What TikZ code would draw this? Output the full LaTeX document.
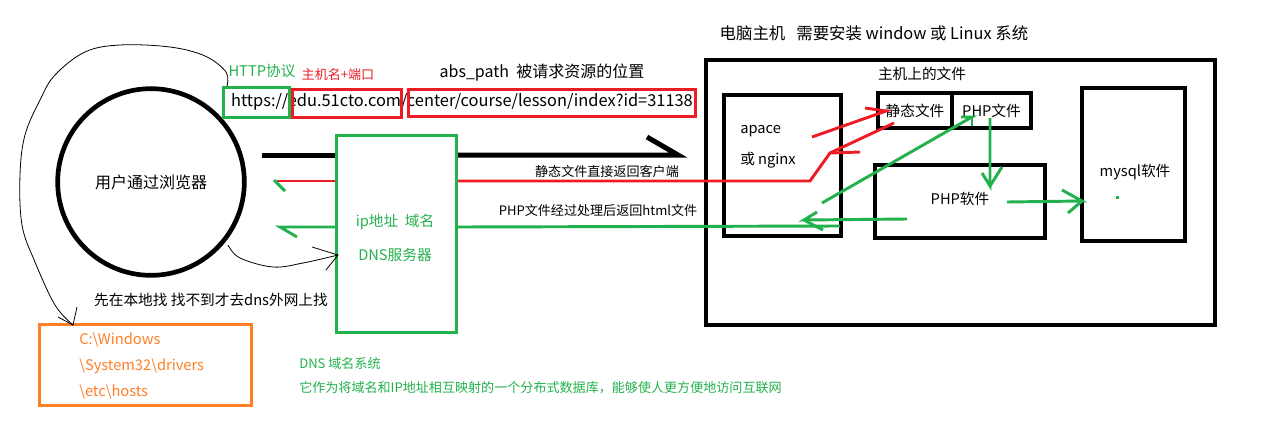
\documentclass[tikz,border=0pt]{standalone}
\usepackage{fontspec}
\setmainfont{Noto Sans CJK SC}
\usetikzlibrary{positioning}
\definecolor{pgreen}{HTML}{22B14C}
\definecolor{pred}{HTML}{ED1C24}
\definecolor{porange}{HTML}{FF7F27}
\tikzset{
  txt/.style={font=\fontsize{11}{13}\selectfont,inner sep=0pt},
  bigtxt/.style={font=\fontsize{12.3}{14}\selectfont,inner sep=0pt},
  smalltxt/.style={font=\fontsize{9.8}{11}\selectfont,inner sep=0pt},
  blkbox/.style={draw,line width=3pt,inner sep=0pt,font=\fontsize{11}{13}\selectfont},
  grnbox/.style={draw=pgreen,line width=2.4pt,inner sep=0pt},
  redbox/.style={draw=pred,line width=2.2pt,inner sep=0pt},
  grnln/.style={pgreen,line width=2.2pt},
  redln/.style={pred,line width=2.2pt},
  pen/.style={black,line width=0.6pt}
}
\begin{document}
\begin{tikzpicture}[x=0.75pt,y=-0.75pt]
\useasboundingbox (0,0) rectangle (1283,429);
% browser side
\node[circle,draw,line width=3.5pt,minimum size=140pt,inner sep=0pt,
  font=\fontsize{12}{14}\selectfont] (browser) at (151,182) {用户通过浏览器};
\node[bigtxt] (url) at (462,102) {https://edu.51cto.com/center/course/lesson/index?id=31138};
\node[grnbox,minimum width=49.5pt,minimum height=22.5pt] (proto) at (256.5,102.5) {};
\node[redbox,minimum width=81.75pt,minimum height=21pt] (hostport) at (347,103.5) {};
\node[redbox,minimum width=215pt,minimum height=20.25pt] (abspath) at (552,103) {};
\node[txt,pgreen] (protolbl) at (262,71) {HTTP协议};
\node[smalltxt,pred] (hostlbl) at (338,75) {主机名+端口};
\node[bigtxt,font=\fontsize{12}{14}\selectfont] (abslbl) at (542,73) {abs\_path\ \ 被请求资源的位置};
% dns
\node[grnbox,minimum width=90pt,minimum height=147.75pt] (dns) at (396.5,234) {};
\node[txt,pgreen] (dnsip) at (395,222) {ip地址\ \ 域名};
\node[txt,pgreen] (dnsname) at (395,255) {DNS服务器};
\node[txt] (locallbl) at (211,300) {先在本地找 找不到才去dns外网上找};
\node[draw=porange,line width=2.4pt,minimum width=159pt,minimum height=60.75pt] (hosts) at (145.5,365) {};
\node[txt,porange,anchor=west] (hosts1) at (79,340) {C:\textbackslash Windows};
\node[txt,porange,anchor=west] (hosts2) at (79,366) {\textbackslash System32\textbackslash drivers};
\node[txt,porange,anchor=west] (hosts3) at (79,392) {\textbackslash etc\textbackslash hosts};
\node[smalltxt,pgreen,anchor=west] (dnsdef1) at (299,363) {DNS 域名系统};
\node[smalltxt,pgreen,anchor=west] (dnsdef2) at (299,388) {它作为将域名和IP地址相互映射的一个分布式数据库，能够使人更方便地访问互联网};
% server
\node[bigtxt] (title) at (874,33) {电脑主机\ \ \ 需要安装 window 或 Linux 系统};
\node[blkbox,minimum width=381.75pt,minimum height=198.75pt] (server) at (960.5,192.5) {};
\node[blkbox,minimum width=87.75pt,minimum height=105.75pt] (apache) at (782.5,165.5) {};
\node[txt,anchor=west] (apache1) at (740,131) {apace};
\node[txt,anchor=west] (apache2) at (740,160) {或 nginx};
\node[txt] (fileslbl) at (922,74) {主机上的文件};
\node[blkbox,minimum width=55.5pt,minimum height=26.25pt] (static) at (915,110.5) {静态文件};
\node[blkbox,minimum width=59.25pt,minimum height=26.25pt] (phpfile) at (991.5,110.5) {PHP文件};
\node[blkbox,minimum width=127.5pt,minimum height=54.75pt] (phpsw) at (960,201.5) {};
\node[txt] (phpswlbl) at (960,199) {PHP软件};
\node[blkbox,minimum width=77.25pt,minimum height=114.75pt] (mysql) at (1133.5,164.5) {};
\node[txt] (mysqllbl) at (1135,172) {mysql软件};
\fill[pgreen] (1116,196) rectangle (1119,199);
% request
\coordinate (reqstart) at (262,155);
\coordinate (reqtip) at (678,155);
\draw[line width=3.75pt] (reqstart) -- (reqstart -| dns.west);
\draw[line width=3.75pt] (reqstart -| dns.east) -- (reqtip) -- ++(-31,-18);
% static reply
\coordinate (redtip) at (277,181);
\coordinate (redkink) at (830,153);
\draw[redln] (894,123) -- (redkink) -- (810,181) -- (redtip -| dns.east);
\draw[redln] (redtip -| dns.west) -- (redtip);
\draw[redln] (redkink) -- (860,152);
\draw[grnln] (274,180) -- (285,191);
\node[smalltxt] (staticlbl) at (607,172) {静态文件直接返回客户端};
\draw[redln] (812,137) -- (886,111) -- (865,108);
% php route
\coordinate (phptip) at (972,117);
\draw[grnln] (822,203) -- (phptip) -- (961,117);
\draw[grnln] (phptip) -- (972,126);
\coordinate (swtip) at (990,186);
\draw[grnln] (990,118) -- (swtip) -- (982,173);
\draw[grnln] (swtip) -- (1002,167);
\coordinate (dbtip) at (1082,201);
\draw[grnln] (1007,202) -- (dbtip) -- (1062,190);
\draw[grnln] (dbtip) -- (1068,213);
\coordinate (backtip) at (804,220);
\draw[grnln] (907,219) -- (backtip) -- (817,212);
\draw[grnln] (backtip) -- (823,230);
\coordinate (htmltip) at (280,227);
\draw[grnln] (840,226) -- (htmltip -| dns.east);
\draw[grnln] (htmltip -| dns.west) -- (htmltip) -- (297,237);
\node[smalltxt] (htmllbl) at (598,210) {PHP文件经过处理后返回html文件};
% hand drawn lookups
\draw[pen] plot[smooth,tension=0.6] coordinates {(227,86) (226,72) (205,56) (170,47) (120,45) (85,52) (55,75) (40,100) (25,135) (20,175) (22,225) (35,262) (55,305) (73,325)};
\draw[pen] (58,317) -- (73,325) -- (77,307);
\draw[pen] plot[smooth,tension=0.6] coordinates {(228,245) (240,258) (273,267) (303,263) (338,255)};
\draw[pen] (312,247) -- (338,255) -- (326,270);
\end{tikzpicture}
\end{document}
